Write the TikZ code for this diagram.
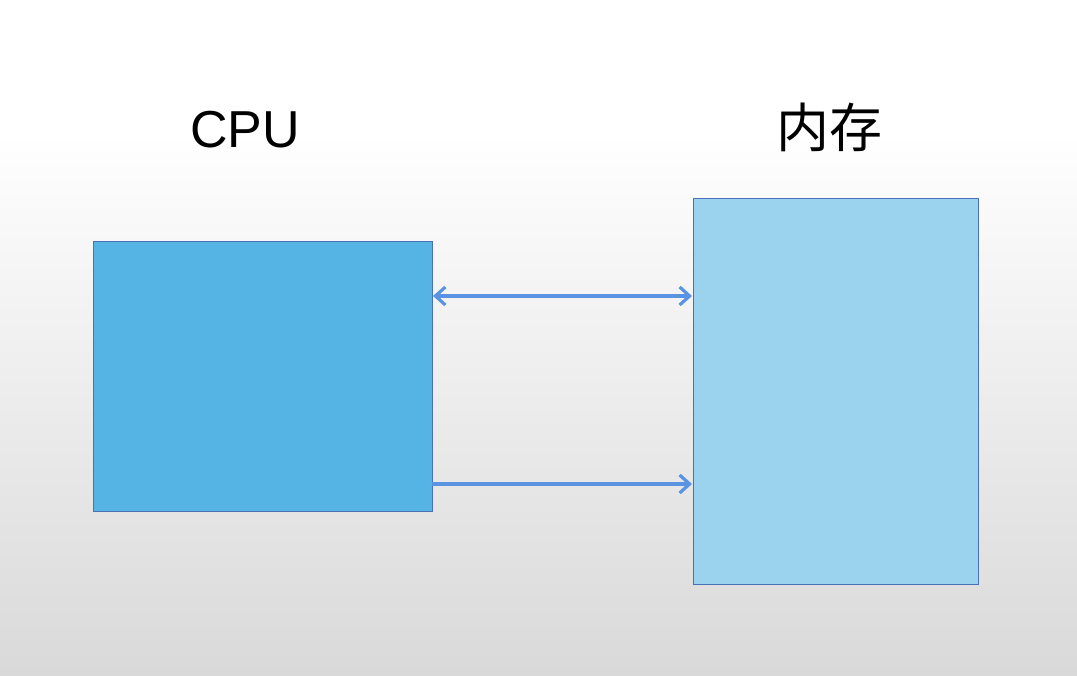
\documentclass[tikz,border=0pt]{standalone}
\usepackage{fontspec}
\setmainfont{Liberation Sans}
\newfontfamily\cjk{Noto Sans CJK SC}
\usetikzlibrary{arrows.meta}
\definecolor{bgbot}{HTML}{D9D9D9}
\definecolor{cpufill}{HTML}{56B4E4}
\definecolor{memfill}{HTML}{9BD2EE}
\definecolor{boxline}{HTML}{4A70B8}
\definecolor{arrowc}{HTML}{5B93E3}
\tikzset{
  box/.style={draw=boxline, line width=0.8pt, inner sep=0pt, outer sep=0pt},
  title/.style={inner sep=0pt, font=\fontsize{52}{52}\selectfont},
  conn/.style={draw=arrowc, line width=3.4pt, shorten <=1pt, shorten >=1pt},
  tip/.tip={Straight Barb[length=10pt, width=18pt, line width=3.2pt]}
}
\begin{document}
\begin{tikzpicture}[x=1pt,y=-1pt]
\useasboundingbox (0,0) rectangle (1077,676);
\fill[white] (0,0) rectangle (1077,130);
\shade[top color=white, bottom color=bgbot] (0,130) rectangle (1077,676);
\node[box, fill=cpufill, minimum width=339pt, minimum height=270pt, anchor=north west] (cpu) at (93,241) {};
\node[box, fill=memfill, minimum width=285pt, minimum height=386pt, anchor=north west] (mem) at (693,198) {};
\node[title] (cputxt) at (245,130) {CPU};
\node[title, font=\cjk\fontsize{53}{53}\selectfont] (memtxt) at (829,127) {内存};
\coordinate (a1) at (0,296);
\coordinate (a2) at (0,484);
\draw[conn, {tip}-{tip}] (cpu.east |- a1) -- (mem.west |- a1);
\draw[conn, -{tip}, shorten <=0pt] (cpu.east |- a2) -- (mem.west |- a2);
\end{tikzpicture}
\end{document}
